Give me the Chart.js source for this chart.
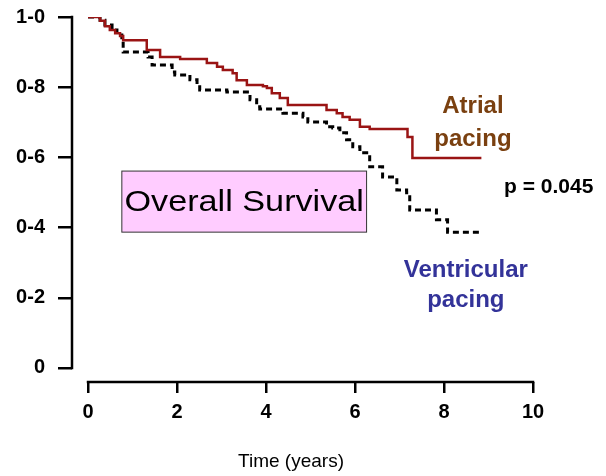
<!DOCTYPE html>
<html>
<head>
<meta charset="utf-8">
<script src="https://cdn.jsdelivr.net/npm/chart.js@4"></script>
<style>
  html, body { margin: 0; padding: 0; background: #fff; }
  #wrap { width: 606px; height: 476px; }
</style>
</head>
<body>
<div id="wrap"><canvas id="survChart" width="606" height="476"></canvas></div>
<script>
// Kaplan-Meier steps (time in years, survival fraction)
const atrialTime = [0, 0.16, 0.27, 0.38, 0.49, 0.61, 0.72, 0.79, 1.32, 1.62, 2.07, 2.67, 2.90, 3.03, 3.25, 3.34, 3.57, 3.93, 4.02, 4.13, 4.31, 4.49, 5.36, 5.59, 5.72, 5.88, 6.11, 6.33, 7.18, 7.29, 8.84];
const atrialSurv = [1.0, 1.0, 0.989, 0.974, 0.963, 0.954, 0.946, 0.934, 0.906, 0.886, 0.880, 0.869, 0.858, 0.849, 0.840, 0.820, 0.806, 0.803, 0.798, 0.783, 0.769, 0.749, 0.735, 0.726, 0.715, 0.707, 0.687, 0.681, 0.658, 0.598, 0.598];

const ventTime = [0, 0.27, 0.38, 0.54, 0.65, 0.76, 0.79, 1.35, 1.44, 1.89, 1.95, 2.29, 2.45, 2.51, 3.12, 3.64, 3.79, 3.86, 4.38, 4.83, 4.94, 5.36, 5.50, 5.66, 5.81, 5.95, 6.11, 6.33, 6.62, 6.94, 7.16, 7.23, 7.83, 8.08, 8.84];
const ventSurv = [1.0, 0.991, 0.977, 0.963, 0.949, 0.934, 0.900, 0.886, 0.863, 0.843, 0.835, 0.821, 0.806, 0.792, 0.786, 0.764, 0.744, 0.738, 0.726, 0.715, 0.701, 0.687, 0.684, 0.670, 0.650, 0.630, 0.613, 0.573, 0.544, 0.507, 0.499, 0.450, 0.422, 0.387, 0.387];

const xTicks = [0, 2, 4, 6, 8, 10];
const yTicks = [0, 0.2, 0.4, 0.6, 0.8, 1.0];
const pValue = "p = 0.045";
const xTitle = "Time (years)";

const toPoints = (ts, ss) => ts.map((t, i) => ({ x: t, y: ss[i] }));
const FONT = "'Liberation Sans', Arial, sans-serif";

// axis lines only span the tick range, detached at the corner
const axisLines = {
  id: "axisLines",
  afterDraw(chart) {
    const { ctx, chartArea, scales: { x, y } } = chart;
    ctx.save();
    ctx.strokeStyle = "#000";
    ctx.lineWidth = 2.5;
    ctx.beginPath();
    ctx.moveTo(x.getPixelForValue(0) - 1.25, chartArea.bottom);
    ctx.lineTo(x.getPixelForValue(10) + 1.25, chartArea.bottom);
    ctx.moveTo(chartArea.left, y.getPixelForValue(0) + 1.25);
    ctx.lineTo(chartArea.left, y.getPixelForValue(1) - 1.25);
    ctx.stroke();
    ctx.restore();
  }
};

// text labels and the "Overall Survival" box
const labels = {
  id: "labels",
  afterDraw(chart) {
    const { ctx, chartArea, scales: { x, y } } = chart;
    ctx.save();

    const bx0 = x.getPixelForValue(0.76), bx1 = x.getPixelForValue(6.26);
    const by0 = y.getPixelForValue(0.561), by1 = y.getPixelForValue(0.387);
    ctx.fillStyle = "#ffccff";
    ctx.fillRect(bx0, by0, bx1 - bx0, by1 - by0);
    ctx.strokeStyle = "#333";
    ctx.lineWidth = 1;
    ctx.strokeRect(bx0, by0, bx1 - bx0, by1 - by0);
    ctx.fillStyle = "#000";
    ctx.textAlign = "center";
    ctx.textBaseline = "middle";
    ctx.save();
    ctx.translate((bx0 + bx1) / 2, (by0 + by1) / 2 + 1);
    ctx.scale(1.14, 1);
    ctx.font = "30px " + FONT;
    ctx.fillText("Overall Survival", 0, 0);
    ctx.restore();

    ctx.font = "bold 24px " + FONT;
    ctx.fillStyle = "#7a4010";
    ctx.fillText("Atrial", x.getPixelForValue(8.65), y.getPixelForValue(0.744));
    ctx.fillText("pacing", x.getPixelForValue(8.65), y.getPixelForValue(0.650));

    ctx.fillStyle = "#333399";
    ctx.fillText("Ventricular", x.getPixelForValue(8.49), y.getPixelForValue(0.279));
    ctx.fillText("pacing", x.getPixelForValue(8.49), y.getPixelForValue(0.194));

    ctx.fillStyle = "#000";
    ctx.font = "bold 21px " + FONT;
    ctx.textAlign = "left";
    ctx.fillText(pValue, x.getPixelForValue(9.35), y.getPixelForValue(0.516));

    // axis title, sitting a little left of centre as in the original
    ctx.textAlign = "center";
    ctx.font = "19px " + FONT;
    ctx.fillText(xTitle, chartArea.left + 219, chartArea.bottom + 80);
    ctx.restore();
  }
};

new Chart(document.getElementById("survChart"), {
  type: "line",
  data: {
    datasets: [
      {
        label: "Atrial pacing",
        data: toPoints(atrialTime, atrialSurv),
        borderColor: "#9a1414",
        borderWidth: 2.5,
        stepped: true,
        pointRadius: 0,
        fill: false
      },
      {
        label: "Ventricular pacing",
        data: toPoints(ventTime, ventSurv),
        borderColor: "#000",
        borderWidth: 3,
        borderDash: [6, 4],
        stepped: true,
        pointRadius: 0,
        fill: false
      }
    ]
  },
  options: {
    responsive: false,
    animation: false,
    layout: { padding: { top: 17, right: 73, left: 0, bottom: 0 } },
    plugins: {
      legend: { display: false },
      tooltip: { enabled: false }
    },
    scales: {
      x: {
        type: "linear",
        min: -0.36,
        max: 10,
        afterBuildTicks: s => { s.ticks = xTicks.map(v => ({ value: v })); },
        afterFit: s => { s.height = 94; s.paddingLeft = 0; s.paddingRight = 0; },
        border: { display: false },
        grid: { drawOnChartArea: false, drawTicks: true, tickLength: 11, color: "#000", lineWidth: 2.5 },
        ticks: { color: "#000", font: { family: FONT, size: 20, weight: "bold" }, padding: 7, maxRotation: 0 }
      },
      y: {
        min: -0.04,
        max: 1.0,
        afterBuildTicks: s => { s.ticks = yTicks.map(v => ({ value: v })); },
        afterFit: s => { s.width = 72; s.paddingTop = 0; s.paddingBottom = 0; },
        border: { display: false },
        grid: { drawOnChartArea: false, drawTicks: true, tickLength: 14, color: "#000", lineWidth: 2.5 },
        ticks: {
          color: "#000",
          font: { family: FONT, size: 20, weight: "bold" },
          padding: 13,
          callback: v => v === 0 ? "0" : v.toFixed(1).replace(".", "-")
        }
      }
    }
  },
  plugins: [axisLines, labels]
});
</script>
</body>
</html>
